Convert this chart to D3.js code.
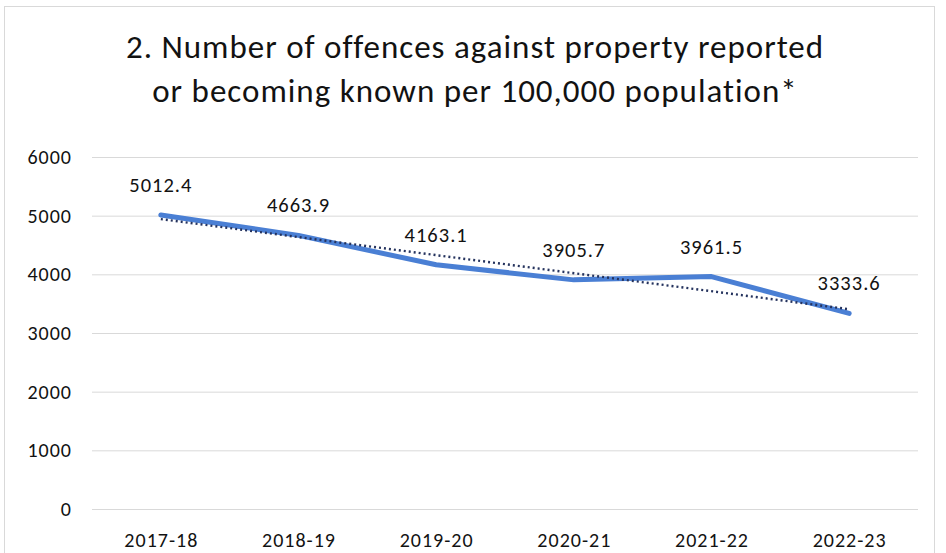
<!DOCTYPE html>
<html>
<head>
<meta charset="utf-8">
<script src="https://cdn.jsdelivr.net/npm/d3@7/dist/d3.min.js"></script>
<style>
  html, body { margin: 0; padding: 0; background: #ffffff; }
  svg { display: block; }
</style>
</head>
<body>
<div id="chart"></div>
<script>
// Offences against property per 100,000 population, by year
const years = ["2017-18", "2018-19", "2019-20", "2020-21", "2021-22", "2022-23"];
const offences = [5012.4, 4663.9, 4163.1, 3905.7, 3961.5, 3333.6];
const yTicks = [0, 1000, 2000, 3000, 4000, 5000, 6000];
const titleLines = [
  "2. Number of offences against property reported",
  "or becoming known per 100,000 population*"
];

const W = 946, H = 553;
const font = "Carlito, Calibri, Lato, 'Open Sans', sans-serif";
const ink = "#121212";

const svg = d3.select("#chart").append("svg")
  .attr("width", W).attr("height", H);

// chart frame
svg.append("rect")
  .attr("x", 4.5).attr("y", 6.5)
  .attr("width", 930).attr("height", 560)
  .attr("fill", "#ffffff")
  .attr("stroke", "#d9d9d9").attr("stroke-width", 1);

// title
const title = svg.append("text")
  .attr("text-anchor", "middle")
  .attr("font-family", font)
  .attr("font-size", 33)
  .attr("letter-spacing", 1)
  .attr("fill", ink);
titleLines.forEach((t, i) => {
  title.append("tspan")
    .attr("x", 475).attr("y", 58 + i * 44)
    .text(t);
});

const plot = { left: 92, right: 918, top: 157, bottom: 509 };

const x = d3.scalePoint()
  .domain(years)
  .range([plot.left, plot.right])
  .padding(0.5);

const y = d3.scaleLinear()
  .domain([0, 6000])
  .range([plot.bottom, plot.top]);

// horizontal gridlines with value ticks
const yAxis = d3.axisLeft(y)
  .tickValues(yTicks)
  .tickSize(-(plot.right - plot.left))
  .tickPadding(20)
  .tickFormat(d3.format("d"));

const gy = svg.append("g")
  .attr("transform", `translate(${plot.left},0)`)
  .call(yAxis);
gy.select(".domain").remove();
gy.selectAll(".tick line")
  .attr("stroke", "#d9d9d9").attr("stroke-width", 1);
gy.selectAll(".tick text")
  .attr("font-family", font)
  .attr("font-size", 20)
  .attr("letter-spacing", 1)
  .attr("fill", ink);

// category axis
const xAxis = d3.axisBottom(x).tickSize(0).tickPadding(24);
const gx = svg.append("g")
  .attr("transform", `translate(0,${plot.bottom})`)
  .call(xAxis);
gx.select(".domain").remove();
gx.selectAll(".tick text")
  .attr("font-family", font)
  .attr("font-size", 20)
  .attr("letter-spacing", 1)
  .attr("fill", ink);

// data line
const pts = years.map((yr, i) => ({ yr, v: offences[i] }));
const line = d3.line()
  .x(d => x(d.yr))
  .y(d => y(d.v));

svg.append("path")
  .datum(pts)
  .attr("fill", "none")
  .attr("stroke", "#4a7fd4")
  .attr("stroke-width", 5)
  .attr("stroke-linejoin", "round")
  .attr("stroke-linecap", "round")
  .attr("d", line);

// linear trendline (least squares over the series)
const n = offences.length;
const xs = d3.range(n);
const mx = d3.mean(xs), my = d3.mean(offences);
const slope = d3.sum(xs, i => (i - mx) * (offences[i] - my)) /
              d3.sum(xs, i => (i - mx) * (i - mx));
const intercept = my - slope * mx;
const trend = years.map((yr, i) => ({ yr, v: intercept + slope * i }));

svg.append("path")
  .datum([trend[0], trend[n - 1]])
  .attr("fill", "none")
  .attr("stroke", "#25335e")
  .attr("stroke-width", 2.4)
  .attr("stroke-dasharray", "2,3")
  .attr("d", line);

// value labels
svg.append("g")
  .selectAll("text")
  .data(pts)
  .join("text")
  .attr("x", d => x(d.yr))
  .attr("y", d => y(d.v) - 23)
  .attr("text-anchor", "middle")
  .attr("font-family", font)
  .attr("font-size", 20.5)
  .attr("letter-spacing", 1)
  .attr("fill", ink)
  .text(d => d.v.toFixed(1));
</script>
</body>
</html>
